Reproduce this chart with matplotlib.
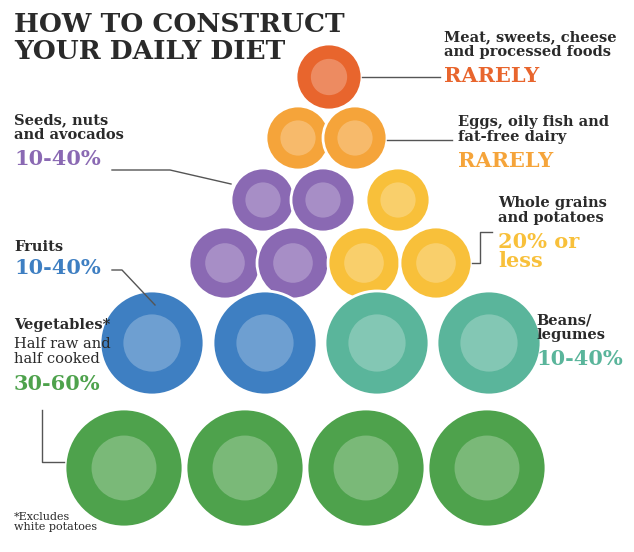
import matplotlib.pyplot as plt
from matplotlib.patches import Circle

categories = ["Meat, sweets, cheese\nand processed foods", "Eggs, oily fish and\nfat-free dairy",
              "Seeds, nuts\nand avocados", "Whole grains\nand potatoes", "Fruits",
              "Beans/\nlegumes", "Vegetables*"]
amounts = ["RARELY", "RARELY", "10-40%", "20% or\nless", "10-40%", "10-40%", "30-60%"]

fig = plt.figure(figsize=(6.34, 5.52), dpi=100)
ax = fig.add_axes([0, 0, 1, 1])
ax.set_xlim(0, 634); ax.set_ylim(552, 0); ax.axis('off')

orange, lorange, purple, yellow = "#E8652D", "#F5A43A", "#8A69B3", "#F8C03A"
blue, teal, green = "#3E7FC2", "#5AB59B", "#4EA24C"
circles = [
    (329, 77, 33, orange),
    (298, 138, 32, lorange), (355, 138, 32, lorange),
    (263, 200, 32, purple), (323, 200, 32, purple), (398, 200, 32, yellow),
    (225, 263, 36, purple), (293, 263, 36, purple), (364, 263, 36, yellow), (436, 263, 36, yellow),
    (152, 343, 52, blue), (265, 343, 52, blue), (377, 343, 52, teal), (489, 343, 52, teal),
    (124, 468, 59, green), (245, 468, 59, green), (366, 468, 59, green), (487, 468, 59, green),
]
for x, y, r, c in circles:
    ax.add_patch(Circle((x, y), r, facecolor=c, edgecolor="white", lw=2))
    ax.add_patch(Circle((x, y), r * 0.55, facecolor="white", alpha=0.25, lw=0))

dark = "#2a2a2a"
ax.text(14, 12, "HOW TO CONSTRUCT\nYOUR DAILY DIET", fontsize=19, fontweight='bold',
        family="DejaVu Serif", color=dark, va='top', linespacing=1.1)

def lab(x, y, cat, amt, col, ha='left', csize=10.5, asize=15):
    ax.text(x, y, cat, fontsize=csize, fontweight='bold', family="DejaVu Serif",
            color=dark, ha=ha, va='top', linespacing=1.05)
    n = cat.count("\n") + 1
    ax.text(x, y + n * 18, amt, fontsize=asize, fontweight='bold', family="DejaVu Serif",
            color=col, ha=ha, va='top', linespacing=0.95)

lab(444, 30, categories[0], amounts[0], orange)
lab(458, 115, categories[1], amounts[1], lorange)
lab(14, 113, categories[2], amounts[2], purple)
lab(498, 196, categories[3], amounts[3], yellow)
lab(14, 240, categories[4], amounts[4], blue)
lab(536, 313, categories[5], amounts[5], teal)
ax.text(14, 318, categories[6], fontsize=10.5, fontweight='bold', family="DejaVu Serif", color=dark, va='top')
ax.text(14, 337, "Half raw and\nhalf cooked", fontsize=10.5, family="DejaVu Serif", color=dark, va='top', linespacing=1.05)
ax.text(14, 374, amounts[6], fontsize=15, fontweight='bold', family="DejaVu Serif", color=green, va='top')
ax.text(14, 512, "*Excludes\nwhite potatoes", fontsize=8, family="DejaVu Serif", color=dark, va='top', linespacing=1.0)

lc = "#555555"
ax.plot([362, 440], [77, 77], color=lc, lw=1)
ax.plot([387, 452], [140, 140], color=lc, lw=1)
ax.plot([112, 170, 231], [170, 170, 184], color=lc, lw=1)
ax.plot([472, 480, 480, 492], [263, 263, 232, 232], color=lc, lw=1)
ax.plot([112, 122, 155], [270, 270, 305], color=lc, lw=1)
ax.plot([42, 42, 64], [410, 462, 462], color=lc, lw=1)

fig.savefig("out.png", dpi=100)
